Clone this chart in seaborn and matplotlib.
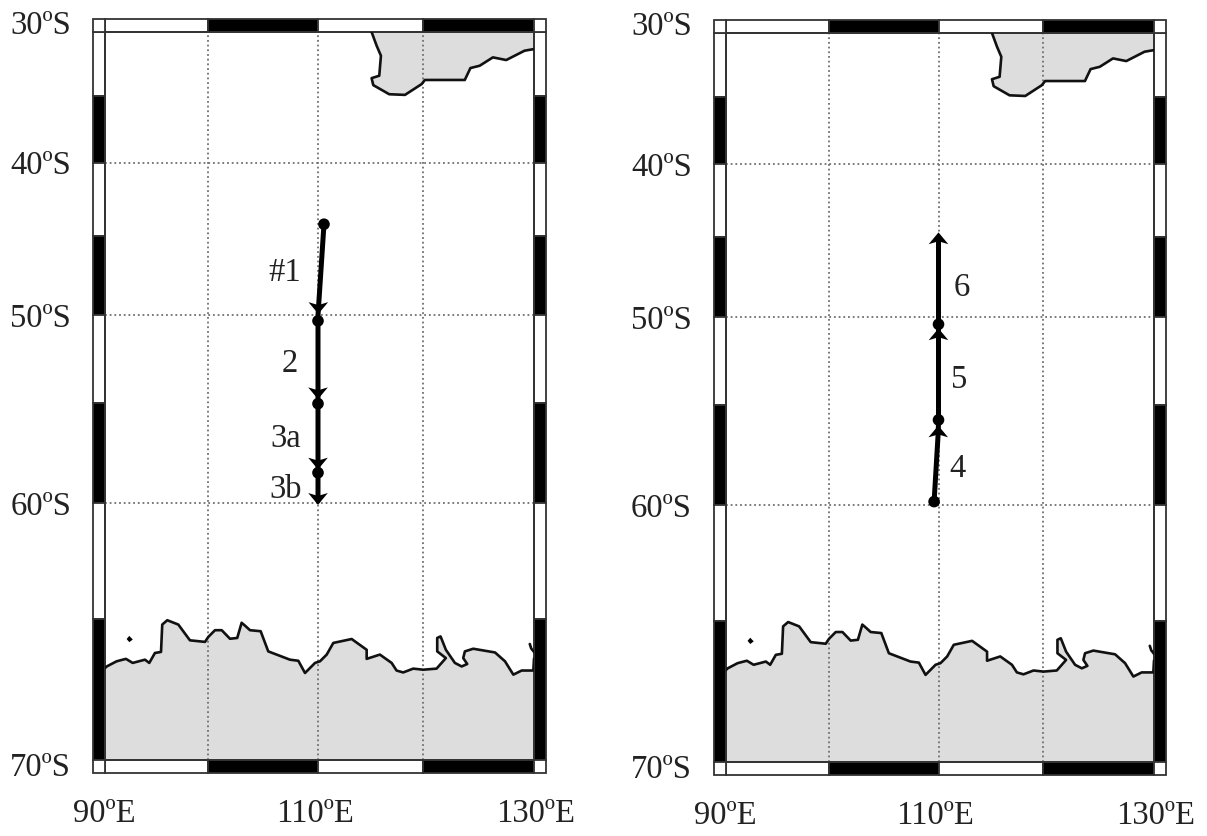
import numpy as np
import pandas as pd
import matplotlib
matplotlib.use("Agg")
import matplotlib.pyplot as plt
from matplotlib.patches import Rectangle
import seaborn as sns

# Latitudes are degrees south throughout
antarctica_lon = [90.0, 90.17, 91.13, 92.03, 92.69, 93.88, 94.30, 94.85, 95.44, 95.56, 96.05, 97.12,
                  98.25, 99.71, 100.03, 100.64, 101.25, 102.0, 102.66, 103.06, 103.36, 103.82, 104.79,
                  105.48, 107.45, 108.21, 108.82, 109.73, 110.19, 110.83, 111.46, 113.21, 114.64,
                  114.64, 115.90, 117.02, 117.49, 118.12, 119.08, 120.03, 121.23, 122.07, 121.29,
                  121.29, 121.59, 122.07, 122.88, 123.49, 123.99, 123.63, 123.78, 124.53, 126.49,
                  127.39, 128.14, 128.89, 129.94, 130.0]
antarctica_lat = [66.85, 66.79, 66.60, 66.51, 66.66, 66.54, 66.66, 66.29, 66.25, 65.20, 65.03, 65.20,
                  65.81, 65.87, 65.68, 65.42, 65.42, 65.75, 65.72, 65.13, 65.24, 65.42, 65.46,
                  66.23, 66.54, 66.58, 67.03, 66.66, 66.60, 66.35, 65.91, 65.76, 66.17,
                  66.51, 66.35, 66.66, 66.94, 67.01, 66.87, 66.91, 66.87, 66.48, 66.23,
                  65.72, 65.66, 66.17, 66.66, 66.79, 66.70, 66.48, 66.23, 66.13, 66.27,
                  66.60, 67.09, 66.94, 66.94, 66.5]
cape_lon = [129.62, 129.75, 130.0]
cape_lat = [65.95, 66.12, 66.25]
island_lon = [92.1, 92.36, 92.7, 92.36, 92.1]
island_lat = [65.76, 65.64, 65.78, 65.88, 65.76]

australia_lon = [115.11, 115.59, 116.0, 115.84, 115.11, 115.27, 116.79, 118.29, 119.88, 120.18, 123.77,
                 124.28, 125.11, 126.3, 127.5, 129.15, 130.0]
australia_lat = [30.0, 31.10, 31.90, 33.47, 33.66, 34.2, 34.9, 34.95, 34.12, 33.8, 33.8,
                 32.87, 32.69, 32.03, 32.24, 31.5, 31.37]

left_line_lon = [110.57, 110.0, 110.0, 110.0, 110.0, 110.0]
left_line_lat = [44.23, 50.0, 50.34, 55.02, 58.55, 59.9]
left_dot_lon = [110.57, 110.0, 110.0, 110.0]
left_dot_lat = [44.23, 50.34, 55.02, 58.55]
left_head_lon = [110.03, 110.0, 110.0, 110.0]
left_head_lat = [49.57, 54.46, 58.1, 59.8]

right_line_lon = [109.6, 109.98, 110.0, 110.0, 110.0]
right_line_lat = [59.85, 56.4, 55.8, 50.46, 45.08]
right_dot_lon = [109.6, 110.0, 110.0]
right_dot_lat = [59.85, 55.8, 50.46]
right_head_lon = [109.98, 110.0, 110.0]
right_head_lat = [56.4, 51.05, 45.08]

left_names = ["#1", "2", "3a", "3b"]
left_name_lon = [107.0, 107.45, 107.1, 107.1]
left_name_lat = [47.3, 52.75, 56.8, 59.3]
right_names = ["4", "5", "6"]
right_name_lon = [111.8, 112.0, 112.2]
right_name_lat = [58.25, 53.6, 48.15]

lon_grid = [100, 110, 120]
lat_grid = [40, 50, 60]
lon_labels = {90: "90ºE", 110: "110ºE", 130: "130ºE"}
lat_labels = {30: "30ºS", 40: "40ºS", 50: "50ºS", 60: "60ºS", 70: "70ºS"}
lon_bands = [90, 100, 110, 120, 130]
lat_bands = [30, 35, 40, 45, 50, 55, 60, 65, 70]

# the source map's meridians are not quite evenly spaced
lon_knots = [90, 100, 110, 120, 130]
lon_fracs = [0.0, 0.240, 0.4965, 0.741, 1.0]

FRAME = "#333333"
LAND = "#dddddd"
W, H = 1207, 837
SERIF = ["Liberation Serif", "DejaVu Serif"]


def merc(lat):
    lat = np.clip(lat, 1, 85)
    return np.log(np.tan(np.pi / 4 + np.radians(lat) / 2))


def merc_inv(y):
    return np.degrees(2 * np.arctan(np.exp(y)) - np.pi / 2)


def lon_fwd(x):
    return np.interp(x, lon_knots, lon_fracs)


def lon_inv(x):
    return np.interp(x, lon_fracs, lon_knots)


def draw_frame(ax, wide, tall):
    # checkered border outside the map area
    xtr = ax.get_xaxis_transform()
    ytr = ax.get_yaxis_transform()
    for i in range(len(lon_bands) - 1):
        color = "black" if i % 2 else "white"
        for y0 in (1, -tall):
            ax.add_patch(Rectangle((lon_bands[i], y0), lon_bands[i + 1] - lon_bands[i], tall, transform=xtr,
                                   fc=color, ec=FRAME, lw=1.3, clip_on=False))
    for i in range(len(lat_bands) - 1):
        color = "black" if i % 2 else "white"
        for x0 in (-wide, 1):
            ax.add_patch(Rectangle((x0, lat_bands[i]), wide, lat_bands[i + 1] - lat_bands[i], transform=ytr,
                                   fc=color, ec=FRAME, lw=1.3, clip_on=False))
    for x0 in (-wide, 1):
        for y0 in (-tall, 1):
            ax.add_patch(Rectangle((x0, y0), wide, tall, transform=ax.transAxes,
                                   fc="white", ec=FRAME, lw=1.3, clip_on=False))


def draw_map(ax, line_lon, line_lat, dot_lon, dot_lat, head_lon, head_lat, head_marker,
             names, name_lon, name_lat):
    ax.set_xscale("function", functions=(lon_fwd, lon_inv))
    ax.set_yscale("function", functions=(merc, merc_inv))

    ax.fill(antarctica_lon + [130, 90], antarctica_lat + [70, 70], color=LAND, lw=0, zorder=1)
    ax.fill(australia_lon + [130], australia_lat + [30], color=LAND, lw=0, zorder=1)
    ax.fill(island_lon, island_lat, color="black", lw=0, zorder=3)

    for lon, lat in ((antarctica_lon, antarctica_lat), (australia_lon, australia_lat), (cape_lon, cape_lat)):
        sns.lineplot(x=lon, y=lat, sort=False, estimator=None, color="#111111", lw=1.9, ax=ax, zorder=3)

    for v in lon_grid:
        ax.axvline(v, color="#707070", ls=(0, (1, 1.6)), lw=1.3, zorder=2)
    for v in lat_grid:
        ax.axhline(v, color="#707070", ls=(0, (1, 1.6)), lw=1.3, zorder=2)

    sns.lineplot(x=line_lon, y=line_lat, sort=False, estimator=None, color="black", lw=3.6, ax=ax, zorder=4)
    sns.scatterplot(x=dot_lon, y=dot_lat, color="black", s=70, edgecolor="none", ax=ax, zorder=5)
    sns.scatterplot(x=head_lon, y=head_lat, color="black", s=200, marker=head_marker, edgecolor="none",
                    ax=ax, zorder=5, clip_on=False)

    for name, lon, lat in zip(names, name_lon, name_lat):
        ax.text(lon, lat, name, family=SERIF, fontsize=23.5, color="#222222", ha="center", va="center", zorder=6)

    ax.set_xlim(90, 130)
    ax.set_ylim(70, 30)
    ax.set_xticks([])
    ax.set_yticks([])
    ax.set_xlabel("")
    ax.set_ylabel("")
    for s in ax.spines.values():
        s.set_color(FRAME)
        s.set_linewidth(1.3)
        s.set_visible(True)

    for lat, text in lat_labels.items():
        dy = {30: 7, 40: -2, 50: -3, 60: -3, 70: -7}[lat]
        ax.annotate(text, (0, lat), xycoords=ax.get_yaxis_transform(), xytext=(-34, dy),
                    textcoords="offset pixels", family=SERIF, fontsize=23.5, color="#222222",
                    ha="right", va="center")
    for lon, text in lon_labels.items():
        dx = {90: -1, 110: -3, 130: 2}[lon]
        ax.annotate(text, (lon, 0), xycoords=ax.get_xaxis_transform(), xytext=(dx, -53),
                    textcoords="offset pixels", family=SERIF, fontsize=23.5, color="#222222",
                    ha="center", va="center")

    draw_frame(ax, 12 / 429, 13 / 727)


sns.set_theme(style="white")
fig = plt.figure(figsize=(W / 100, H / 100), dpi=100)
ax_l = fig.add_axes([105 / W, (H - 761) / H, 429 / W, 728 / H])
ax_r = fig.add_axes([726 / W, (H - 763) / H, 428 / W, 729 / H])

head_down = [(-1, 0.6), (0, 0.3), (1, 0.6), (0, -0.6)]
head_up = [(-1, -0.6), (0, -0.3), (1, -0.6), (0, 0.6)]

draw_map(ax_l, left_line_lon, left_line_lat, left_dot_lon, left_dot_lat, left_head_lon, left_head_lat,
         head_down, left_names, left_name_lon, left_name_lat)
draw_map(ax_r, right_line_lon, right_line_lat, right_dot_lon, right_dot_lat, right_head_lon, right_head_lat,
         head_up, right_names, right_name_lon, right_name_lat)

fig.savefig("out.png", dpi=100)
